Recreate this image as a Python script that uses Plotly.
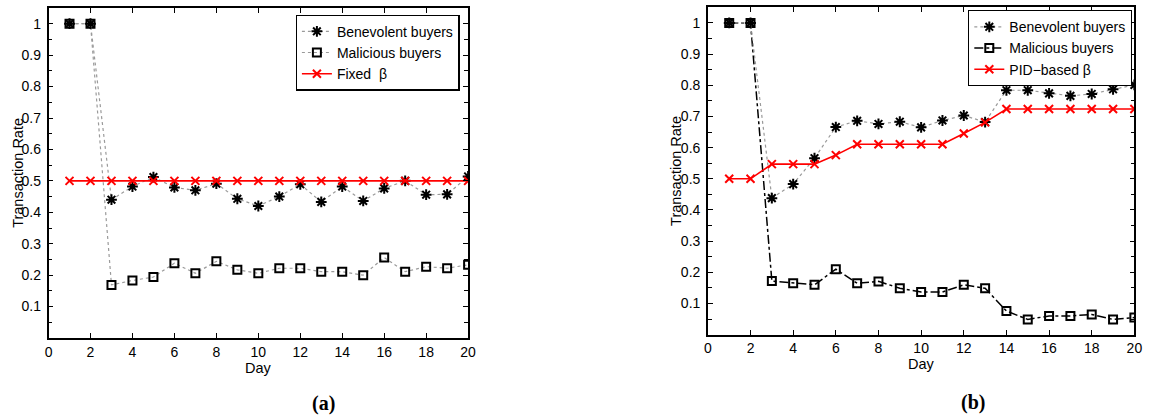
import plotly.graph_objects as go

days = list(range(1, 21))

# Panel (a)
a_benevolent = [1, 1, 0.44, 0.482, 0.512, 0.479, 0.47, 0.491, 0.443, 0.42,
                0.45, 0.489, 0.433, 0.482, 0.436, 0.476, 0.5, 0.456, 0.457, 0.514]
a_malicious = [1, 1, 0.169, 0.183, 0.194, 0.238, 0.206, 0.244, 0.217, 0.206,
               0.222, 0.222, 0.211, 0.211, 0.2, 0.256, 0.211, 0.227, 0.222, 0.233]
a_fixed = [0.5] * 20

# Panel (b)
b_benevolent = [1, 1, 0.438, 0.483, 0.566, 0.666, 0.686, 0.676, 0.683, 0.665,
                0.687, 0.703, 0.682, 0.784, 0.784, 0.774, 0.766, 0.772, 0.787, 0.801]
b_malicious = [1, 1, 0.172, 0.165, 0.16, 0.21, 0.165, 0.171, 0.149, 0.137,
               0.137, 0.16, 0.149, 0.076, 0.049, 0.06, 0.06, 0.065, 0.049, 0.055]
b_pid = [0.5, 0.5, 0.547, 0.547, 0.547, 0.576, 0.611, 0.611, 0.611, 0.611,
         0.611, 0.645, 0.681, 0.724, 0.724, 0.724, 0.724, 0.724, 0.724, 0.724]

x_ticks = list(range(0, 21, 2))
y_ticks = [0.1, 0.2, 0.3, 0.4, 0.5, 0.6, 0.7, 0.8, 0.9, 1.0]
y_tick_text = ["0.1", "0.2", "0.3", "0.4", "0.5", "0.6", "0.7", "0.8", "0.9", "1"]
y_minor = [0.05, 0.15, 0.25, 0.35, 0.45, 0.55, 0.65, 0.75, 0.85, 0.95]

FONT = "Liberation Sans, Arial, sans-serif"

fig = go.Figure()

def ast(name, y, xa, ya, leg):
    return go.Scatter(x=days, y=y, name=name, xaxis=xa, yaxis=ya, legend=leg,
                      legendrank=1, mode="lines+markers",
                      line=dict(color="#9a9a9a", width=1.2, dash="dot"),
                      marker=dict(symbol="asterisk-open", size=9, color="black",
                                  line=dict(color="black", width=2)))

def sq(name, y, xa, ya, leg, dash, color, width):
    return go.Scatter(x=days, y=y, name=name, xaxis=xa, yaxis=ya, legend=leg,
                      legendrank=2, mode="lines+markers",
                      line=dict(color=color, width=width, dash=dash),
                      marker=dict(symbol="square-open", size=8, color="black",
                                  line=dict(color="black", width=2)))

def red(name, y, xa, ya, leg):
    return go.Scatter(x=days, y=y, name=name, xaxis=xa, yaxis=ya, legend=leg,
                      legendrank=3, mode="lines+markers",
                      line=dict(color="#ff0000", width=1.6),
                      marker=dict(symbol="x-thin-open", size=8, color="#ff0000",
                                  line=dict(color="#ff0000", width=2)))

# Panel (a) traces
fig.add_trace(sq("Malicious buyers", a_malicious, "x", "y", "legend", "dot", "#9a9a9a", 1.2))
fig.add_trace(ast("Benevolent buyers", a_benevolent, "x", "y", "legend"))
fig.add_trace(red("Fixed  β", a_fixed, "x", "y", "legend"))

# Panel (b) traces
fig.add_trace(sq("Malicious buyers", b_malicious, "x2", "y2", "legend2", "dashdot", "black", 1.5))
fig.add_trace(ast("Benevolent buyers", b_benevolent, "x2", "y2", "legend2"))
fig.add_trace(red("PID\u2212based β", b_pid, "x2", "y2", "legend2"))

xcommon = dict(range=[0, 20], tickmode="array", tickvals=x_ticks, ticks="inside",
               ticklen=5, tickwidth=1, tickcolor="black", showline=True,
               linecolor="black", linewidth=1.5, mirror="ticks", showgrid=False,
               zeroline=False, tickfont=dict(family=FONT, size=14, color="black"))
ycommon = dict(range=[0, 1.05], tickmode="array", tickvals=y_ticks, ticktext=y_tick_text,
               ticks="inside", ticklen=5, tickwidth=1, tickcolor="black", showline=True,
               linecolor="black", linewidth=1.5, mirror="ticks", showgrid=False,
               zeroline=False, ticklabelstandoff=3,
               minor=dict(tickmode="array", tickvals=y_minor, ticks="inside",
                          ticklen=4, tickcolor="black", showgrid=False),
               tickfont=dict(family=FONT, size=14, color="black"))

legcommon = dict(bgcolor="white", bordercolor="black", borderwidth=1.2,
                 font=dict(family=FONT, size=14, color="black"),
                 xanchor="right", yanchor="top", tracegroupgap=0,
                 itemwidth=30, traceorder="normal")

fig.update_layout(
    width=1150, height=416,
    margin=dict(l=0, r=0, t=0, b=0),
    paper_bgcolor="white", plot_bgcolor="white",
    xaxis=dict(domain=[45 / 1150, 469 / 1150], anchor="y", **xcommon),
    yaxis=dict(domain=[1 - 338 / 416, 1 - 8 / 416], anchor="x", **ycommon),
    xaxis2=dict(domain=[711.3 / 1150, 1142.3 / 1150], anchor="y2", **xcommon),
    yaxis2=dict(domain=[1 - 334.7 / 416, 1 - 7.3 / 416], anchor="x2", **ycommon),
    legend=dict(x=460.5 / 1150, y=1 - 14.5 / 416, **legcommon),
    legend2=dict(x=1140 / 1150, y=1 - 10 / 416, **legcommon),
    showlegend=True,
)

annots = [
    dict(text="Transaction Rate", x=14 / 1150, y=1 - 173 / 416, textangle=-90),
    dict(text="Transaction Rate", x=679 / 1150, y=1 - 171 / 416, textangle=-90),
    dict(text="Day", x=257 / 1150, y=1 - 368 / 416),
    dict(text="Day", x=927 / 1150, y=1 - 364 / 416),
]
for a in annots:
    fig.add_annotation(xref="paper", yref="paper", showarrow=False,
                       xanchor="center", yanchor="middle",
                       font=dict(family=FONT, size=14.5, color="black"), **a)

for txt, cx, cy in [("(a)", 322.5, 403), ("(b)", 979, 402)]:
    fig.add_annotation(xref="paper", yref="paper", showarrow=False, text="<b>" + txt + "</b>",
                       x=cx / 1150, y=1 - cy / 416, xanchor="center", yanchor="middle",
                       font=dict(family="Liberation Serif, Times New Roman, serif",
                                 size=20, color="black"))

fig.write_html("out.html")
